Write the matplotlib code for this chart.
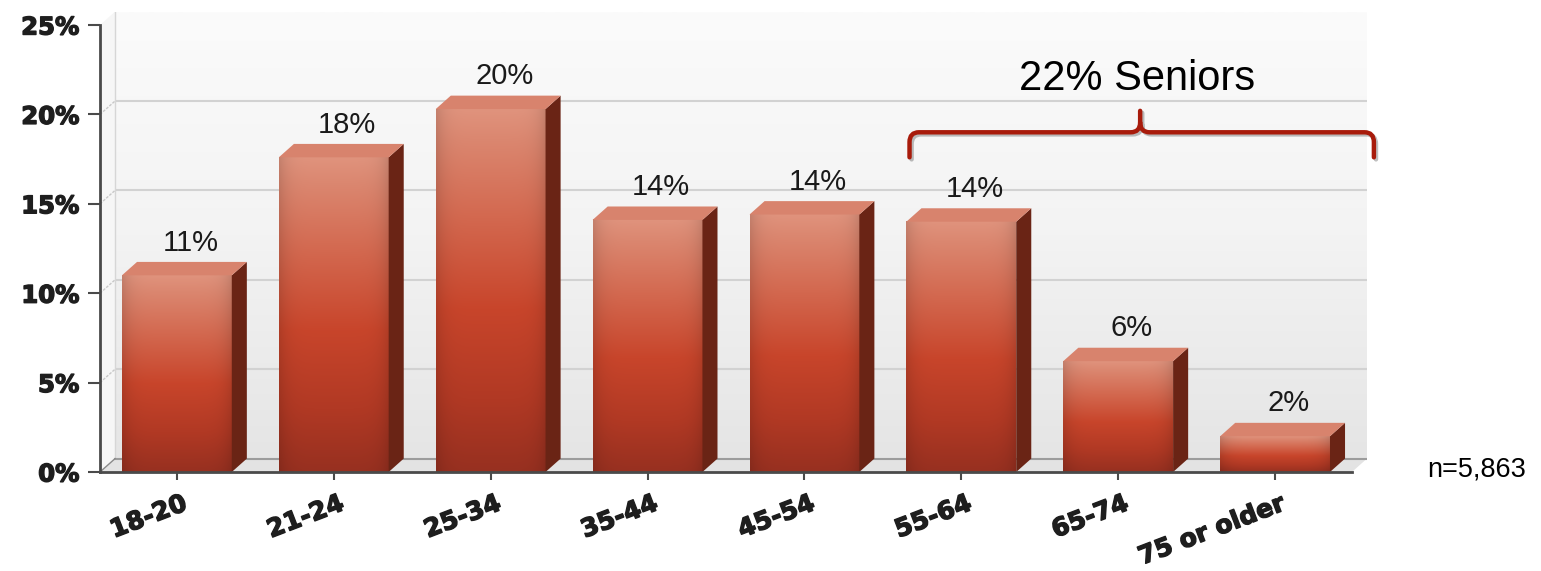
import matplotlib
matplotlib.use('Agg')
import matplotlib.pyplot as plt
import matplotlib.patheffects as pe
import matplotlib.transforms as mtransforms
from matplotlib.colors import LinearSegmentedColormap
from matplotlib.patches import Polygon, PathPatch
from matplotlib.path import Path
import numpy as np

age_groups = ['18-20', '21-24', '25-34', '35-44', '45-54', '55-64', '65-74', '75 or older']
shares = [11.0, 17.6, 20.3, 14.1, 14.4, 14.0, 6.2, 2.0]
y_ticks = [0, 5, 10, 15, 20, 25]
seniors_label = '22% Seniors'
sample_note = 'n=5,863'

BAR_W = 0.70
DX, DY = 0.096, 0.75          # depth offset for the pseudo-3D look
X0, X1 = -0.49, 7.49          # front edge of the floor
YTOP = 25

SIDE = '#6a2415'
TOP = '#d8836d'
BRACKET = '#a81b0b'
INK = '#1e1e1e'

front_cmap = LinearSegmentedColormap.from_list(
    'front', [(0.0, '#e0937d'), (0.08, '#db8770'), (0.3, '#d3684f'),
              (0.55, '#c8452b'), (0.8, '#b13924'), (1.0, '#973020')])
wall_cmap = LinearSegmentedColormap.from_list(
    'wall', ['#fbfbfb', '#f3f3f3', '#e5e5e5'])

heavy = [pe.withStroke(linewidth=1.0, foreground=INK)]

fig = plt.figure(figsize=(15.41, 5.71), dpi=100, facecolor='white')
ax = fig.add_axes([100 / 1541, 99 / 571, 1267 / 1541, 460.4 / 571])
ax.set_facecolor('white')

# back wall with soft vertical gradient
wall = np.linspace(0, 1, 256)[:, None]
ax.imshow(wall, cmap=wall_cmap, aspect='auto', origin='upper',
          extent=(X0 + DX, X1 + DX, DY, YTOP + DY), zorder=0)

# left side wall
ax.add_patch(Polygon([(X0, 0), (X0 + DX, DY), (X0 + DX, YTOP + DY), (X0, YTOP)],
                     closed=True, facecolor='#f6f6f6', edgecolor='none', zorder=0.6))
ax.plot([X0 + DX, X0 + DX], [DY, YTOP + DY], color='#d6d6d6', lw=1, zorder=0.7)

# gridlines on back wall + diagonals on side wall
for t in y_ticks[1:-1]:
    ax.plot([X0 + DX, X1 + DX], [t + DY, t + DY], color='#d2d2d2', lw=1.5, zorder=0.5)
    ax.plot([X0, X0 + DX], [t, t + DY], color='#c8c8c8', lw=1, ls=(0, (2, 1)), zorder=0.8)

# floor
ax.add_patch(Polygon([(X0, 0), (X1, 0), (X1 + DX, DY), (X0 + DX, DY)],
                     closed=True, facecolor='#e3e3e3', edgecolor='none', zorder=1))
ax.plot([X0 + DX, X1 + DX], [DY, DY], color='#9c9c9c', lw=1.5, zorder=1.1)
ax.plot([X0, X0 + DX], [0, DY], color='#8a8a8a', lw=1, zorder=1.1)

# bars
rows = front_cmap(np.linspace(0, 1, 256))[:, :3]
u = np.linspace(0, 1, 64)
shade = 1 - 0.12 * np.abs(2 * u - 1) ** 6
front_img = rows[:, None, :] * shade[None, :, None]

for i, v in enumerate(shares):
    l, r = i - BAR_W / 2, i + BAR_W / 2
    ax.imshow(front_img, aspect='auto', origin='upper',
              extent=(l, r, 0, v), zorder=3, interpolation='bilinear')
    ax.add_patch(Polygon([(r, 0), (r + DX, DY), (r + DX, v + DY), (r, v)],
                         closed=True, facecolor=SIDE, edgecolor='none', zorder=3))
    ax.add_patch(Polygon([(l, v), (r, v), (r + DX, v + DY), (l + DX, v + DY)],
                         closed=True, facecolor=TOP, edgecolor='none', zorder=3))
    ax.text(i + DX * 0.9, v + DY + 0.3, f'{v:.0f}%', ha='center', va='bottom',
            fontsize=21, family='Liberation Sans', color='#1a1a1a', zorder=4)

ax.set_xlim(X0, X1 + DX)
ax.set_ylim(0, YTOP + DY)

# axes styling
for side in ['top', 'right']:
    ax.spines[side].set_visible(False)
ax.spines['left'].set_bounds(0, YTOP)
ax.spines['bottom'].set_bounds(X0, X1)
for side in ['left', 'bottom']:
    ax.spines[side].set_color('#4a4a4a')
    ax.spines[side].set_linewidth(2)
    ax.spines[side].set_zorder(5)

ax.set_yticks(y_ticks)
ax.set_yticklabels([f'{t}%' for t in y_ticks], fontsize=17.5, fontweight='bold',
                   family='DejaVu Sans', color=INK)
ax.tick_params(axis='y', length=9, width=1.5, color='#4a4a4a', pad=6)

ax.set_xticks(range(len(age_groups)))
ax.set_xticklabels(age_groups, rotation=21, ha='right', rotation_mode='anchor',
                   fontsize=18, fontweight='bold', family='DejaVu Sans', color=INK)
ax.tick_params(axis='x', length=6, width=1.5, color='#4a4a4a', pad=8)
nudge = mtransforms.ScaledTranslation(5 / 100, 0, fig.dpi_scale_trans)
for lab in ax.get_xticklabels():
    lab.set_transform(lab.get_transform() + nudge)
for lab in ax.get_xticklabels() + ax.get_yticklabels():
    lab.set_path_effects(heavy)

# bracket over the senior age groups
xl, xr, xm = 4.67, 7.63, 6.14
yb, ye, yp = 19.0, 17.6, 20.2
rx, ry = 0.06, 0.55
verts = [(xl, ye), (xl, yb - ry), (xl, yb), (xl + rx, yb),
         (xm - rx, yb), (xm, yb), (xm, yb + ry), (xm, yp),
         (xm, yb + ry), (xm, yb), (xm + rx, yb),
         (xr - rx, yb), (xr, yb), (xr, yb - ry), (xr, ye)]
codes = [Path.MOVETO, Path.LINETO, Path.CURVE3, Path.CURVE3,
         Path.LINETO, Path.CURVE3, Path.CURVE3, Path.LINETO,
         Path.MOVETO, Path.CURVE3, Path.CURVE3,
         Path.LINETO, Path.CURVE3, Path.CURVE3, Path.LINETO]
brace = PathPatch(Path(verts, codes), facecolor='none', edgecolor=BRACKET,
                  lw=3.2, capstyle='round', joinstyle='round', zorder=6, clip_on=False)
brace.set_path_effects([pe.SimpleLineShadow(offset=(1.5, -1.5), alpha=0.25),
                        pe.Normal()])
ax.add_patch(brace)
ax.text(xm - 0.02, 22.0, seniors_label, ha='center', va='center', fontsize=30,
        family='Liberation Sans', color='black', zorder=6)

fig.text(1477 / 1541, 1 - 470 / 571, sample_note, ha='center', va='center',
         fontsize=19.5, family='Liberation Sans', color='black')

plt.savefig('out.png', dpi=100, facecolor='white')
